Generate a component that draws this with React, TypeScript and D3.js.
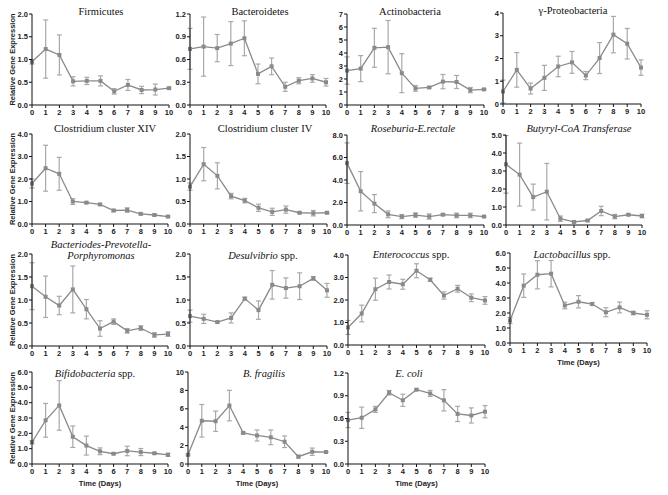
import * as d3 from 'd3';
import React from 'react';

// sampling days
const days = [0, 1, 2, 3, 4, 5, 6, 7, 8, 9, 10];

// mean and error (SEM) per group
const firmicutesMean = [0.95, 1.23, 1.1, 0.52, 0.53, 0.53, 0.3, 0.44, 0.33, 0.34, 0.37];
const firmicutesErr = [0.05, 0.64, 0.44, 0.1, 0.08, 0.11, 0.06, 0.12, 0.08, 0.12, 0.02];

const bacteroidetesMean = [0.74, 0.77, 0.75, 0.81, 0.88, 0.41, 0.51, 0.24, 0.32, 0.35, 0.3];
const bacteroidetesErr = [0.27, 0.39, 0.18, 0.29, 0.23, 0.13, 0.11, 0.06, 0.04, 0.05, 0.05];

const actinoMean = [2.65, 2.8, 4.4, 4.45, 2.45, 1.28, 1.35, 1.8, 1.77, 1.15, 1.2];
const actinoErr = [1.05, 1.0, 1.5, 2.05, 1.5, 0.22, 0.05, 0.55, 0.5, 0.2, 0.05];

const gammaMean = [0.55, 1.5, 0.68, 1.15, 1.65, 1.83, 1.25, 2.02, 3.05, 2.65, 1.6];
const gammaErr = [0.5, 0.76, 0.24, 0.55, 0.45, 0.48, 0.18, 0.68, 0.8, 0.67, 0.34];

const clostXIVMean = [1.8, 2.48, 2.23, 1.0, 0.95, 0.87, 0.6, 0.62, 0.45, 0.4, 0.33];
const clostXIVErr = [0.2, 1.02, 0.73, 0.13, 0.04, 0.04, 0.05, 0.1, 0.04, 0.04, 0.03];

const clostIVMean = [0.83, 1.33, 1.07, 0.62, 0.52, 0.36, 0.27, 0.32, 0.25, 0.24, 0.25];
const clostIVErr = [0.08, 0.37, 0.29, 0.06, 0.05, 0.08, 0.08, 0.08, 0.02, 0.06, 0.02];

const roseburiaMean = [5.5, 3.0, 1.9, 0.95, 0.75, 0.88, 0.75, 0.92, 0.85, 0.85, 0.75];
const roseburiaErr = [1.8, 1.75, 0.8, 0.3, 0.18, 0.2, 0.23, 0.08, 0.2, 0.2, 0.05];

const butyrylMean = [3.37, 2.8, 1.55, 1.85, 0.35, 0.17, 0.25, 0.78, 0.47, 0.57, 0.5];
const butyrylErr = [1.6, 1.75, 0.72, 1.57, 0.15, 0.05, 0.04, 0.26, 0.12, 0.05, 0.1];

const bppMean = [1.3, 1.07, 0.88, 1.23, 0.8, 0.38, 0.53, 0.33, 0.39, 0.24, 0.26];
const bppErr = [0.51, 0.45, 0.2, 0.51, 0.21, 0.17, 0.06, 0.05, 0.05, 0.05, 0.05];

const desulMean = [0.65, 0.59, 0.52, 0.61, 1.03, 0.78, 1.33, 1.26, 1.3, 1.47, 1.21];
const desulErr = [0.13, 0.1, 0.02, 0.11, 0.03, 0.2, 0.31, 0.22, 0.29, 0.04, 0.15];

const enteroMean = [0.78, 1.4, 2.48, 2.8, 2.7, 3.3, 2.9, 2.2, 2.5, 2.1, 1.98];
const enteroErr = [0.31, 0.37, 0.49, 0.31, 0.22, 0.31, 0.07, 0.16, 0.15, 0.17, 0.17];

const lactoMean = [1.5, 3.82, 4.55, 4.62, 2.5, 2.75, 2.6, 2.05, 2.37, 2.0, 1.88];
const lactoErr = [0.2, 0.78, 0.94, 0.88, 0.22, 0.41, 0.1, 0.3, 0.36, 0.12, 0.27];

const bifidoMean = [1.42, 2.85, 3.82, 1.78, 1.2, 0.83, 0.67, 0.85, 0.78, 0.7, 0.6];
const bifidoErr = [0.1, 1.1, 1.62, 0.7, 0.62, 0.22, 0.05, 0.31, 0.23, 0.05, 0.1];

const fragilisMean = [1.0, 4.7, 4.65, 6.35, 3.38, 3.1, 2.9, 2.42, 0.8, 1.33, 1.3];
const fragilisErr = [0.1, 1.77, 1.1, 1.66, 0.1, 0.6, 0.8, 0.63, 0.15, 0.4, 0.05];

const ecoliMean = [0.58, 0.61, 0.72, 0.94, 0.84, 0.98, 0.93, 0.84, 0.66, 0.64, 0.69];
const ecoliErr = [0.1, 0.14, 0.04, 0.03, 0.08, 0.01, 0.04, 0.14, 0.1, 0.1, 0.08];

// y tick values
const ticks0to2half = [0, 0.5, 1, 1.5, 2];
const ticks0to12 = [0, 0.3, 0.6, 0.9, 1.2];
const ticks0to7 = [0, 1, 2, 3, 4, 5, 6, 7];
const ticks0to4 = [0, 1, 2, 3, 4];
const ticks0to8 = [0, 2, 4, 6, 8];
const ticks0to5 = [0, 1, 2, 3, 4, 5];
const ticks0to6 = [0, 1, 2, 3, 4, 5, 6];
const ticks0to10 = [0, 2, 4, 6, 8, 10];

type Part = { t: string; i?: boolean };

const panels = [
  { title: [[{ t: 'Firmicutes' }]], mean: firmicutesMean, err: firmicutesErr, ticks: ticks0to2half, fmt: '.1f',
    x0: 32, x1: 169, y0: 14, y1: 105, tx: 101, ty: 15, ylab: true },
  { title: [[{ t: 'Bacteroidetes' }]], mean: bacteroidetesMean, err: bacteroidetesErr, ticks: ticks0to12, fmt: '.1f',
    x0: 190, x1: 326, y0: 14, y1: 105, tx: 260, ty: 15 },
  { title: [[{ t: 'Actinobacteria' }]], mean: actinoMean, err: actinoErr, ticks: ticks0to7, fmt: 'd',
    x0: 347, x1: 484, y0: 14, y1: 105, tx: 410, ty: 15 },
  { title: [[{ t: 'γ-Proteobacteria' }]], mean: gammaMean, err: gammaErr, ticks: ticks0to4, fmt: 'd',
    x0: 503, x1: 641, y0: 13, y1: 104, tx: 573, ty: 14 },

  { title: [[{ t: 'Clostridium cluster XIV' }]], mean: clostXIVMean, err: clostXIVErr, ticks: ticks0to4, fmt: '.1f',
    x0: 32, x1: 168, y0: 134, y1: 224, tx: 105, ty: 132, ylab: true },
  { title: [[{ t: 'Clostridium cluster IV' }]], mean: clostIVMean, err: clostIVErr, ticks: ticks0to2half, fmt: '.1f',
    x0: 190, x1: 327, y0: 134, y1: 224, tx: 265, ty: 132 },
  { title: [[{ t: 'Roseburia-E.rectale', i: true }]], mean: roseburiaMean, err: roseburiaErr, ticks: ticks0to8, fmt: '.1f',
    x0: 347, x1: 484, y0: 135, y1: 225, tx: 413, ty: 132 },
  { title: [[{ t: 'Butyryl-CoA Transferase', i: true }]], mean: butyrylMean, err: butyrylErr, ticks: ticks0to5, fmt: '.1f',
    x0: 506, x1: 642, y0: 135, y1: 225, tx: 579, ty: 132 },

  { title: [[{ t: 'Bacteriodes-Prevotella-', i: true }], [{ t: 'Porphyromonas', i: true }]], mean: bppMean, err: bppErr,
    ticks: ticks0to2half, fmt: '.1f', x0: 32, x1: 168, y0: 254, y1: 346, tx: 101, ty: 248, ylab: true },
  { title: [[{ t: 'Desulvibrio', i: true }, { t: ' spp.' }]], mean: desulMean, err: desulErr, ticks: ticks0to2half, fmt: '.1f',
    x0: 190, x1: 327, y0: 254, y1: 346, tx: 263, ty: 259 },
  { title: [[{ t: 'Enterococcus', i: true }, { t: ' spp.' }]], mean: enteroMean, err: enteroErr, ticks: ticks0to4, fmt: '.1f',
    x0: 348, x1: 485, y0: 255, y1: 345, tx: 411, ty: 258 },
  { title: [[{ t: 'Lactobacillus', i: true }, { t: ' spp.' }]], mean: lactoMean, err: lactoErr, ticks: ticks0to6, fmt: '.1f',
    x0: 510, x1: 647, y0: 253, y1: 343, tx: 572, ty: 258, xlab: true },

  { title: [[{ t: 'Bifidobacteria', i: true }, { t: ' spp.' }]], mean: bifidoMean, err: bifidoErr, ticks: ticks0to6, fmt: '.1f',
    x0: 32, x1: 168, y0: 372, y1: 464, tx: 95, ty: 377, ylab: true, xlab: true },
  { title: [[{ t: 'B. fragilis', i: true }]], mean: fragilisMean, err: fragilisErr, ticks: ticks0to10, fmt: 'd',
    x0: 188, x1: 326, y0: 372, y1: 464, tx: 264, ty: 377, xlab: true },
  { title: [[{ t: 'E. coli', i: true }]], mean: ecoliMean, err: ecoliErr, ticks: ticks0to12, fmt: '.1f',
    x0: 348, x1: 485, y0: 373, y1: 464, tx: 409, ty: 377, xlab: true },
];

const LINE = '#8a8a8a';
const ERR = '#a9a9a9';
const AXIS = '#111';
const sans = '"Liberation Sans", Arial, sans-serif';
const serif = '"Liberation Serif", "Times New Roman", serif';

const Panel = ({ p }: { p: (typeof panels)[number] }) => {
  const x = d3.scaleLinear().domain([0, 10]).range([p.x0, p.x1]);
  const y = d3
    .scaleLinear()
    .domain([0, p.ticks[p.ticks.length - 1]])
    .range([p.y1, p.y0]);
  const fmt = d3.format(p.fmt);
  const line = d3
    .line<number>()
    .x((_, i) => x(days[i]))
    .y((d) => y(d));

  return (
    <g>
      {/* error bars */}
      {p.mean.map((m, i) => {
        const cx = x(days[i]);
        const lo = y(Math.max(0, m - p.err[i]));
        const hi = y(m + p.err[i]);
        return (
          <g key={'e' + i} stroke={ERR} strokeWidth={1.2} fill="none">
            <line x1={cx} x2={cx} y1={lo} y2={hi} />
            <line x1={cx - 2.5} x2={cx + 2.5} y1={lo} y2={lo} />
            <line x1={cx - 2.5} x2={cx + 2.5} y1={hi} y2={hi} />
          </g>
        );
      })}
      <path d={line(p.mean) || ''} fill="none" stroke={LINE} strokeWidth={1.3} />
      {p.mean.map((m, i) => (
        <rect key={'m' + i} x={x(days[i]) - 2} y={y(m) - 2} width={4} height={4} fill={LINE} />
      ))}

      {/* axes */}
      <line x1={p.x0} x2={p.x0} y1={p.y0} y2={p.y1} stroke={AXIS} strokeWidth={1} />
      <line x1={p.x0} x2={p.x1} y1={p.y1} y2={p.y1} stroke={AXIS} strokeWidth={1} />
      {p.ticks.map((t) => (
        <g key={'y' + t}>
          <line x1={p.x0 - 3} x2={p.x0} y1={y(t)} y2={y(t)} stroke={AXIS} strokeWidth={1} />
          <text x={p.x0 - 4} y={y(t)} dy="0.35em" textAnchor="end" fontSize={7.5} fontWeight="bold"
            fontFamily={sans} fill="#222">
            {fmt(t)}
          </text>
        </g>
      ))}
      {days.map((d) => (
        <g key={'x' + d}>
          <line x1={x(d)} x2={x(d)} y1={p.y1} y2={p.y1 + 3} stroke={AXIS} strokeWidth={1} />
          <text x={x(d)} y={p.y1 + 10} textAnchor="middle" fontSize={7.5} fontWeight="bold"
            fontFamily={sans} fill="#222">
            {d}
          </text>
        </g>
      ))}

      {/* title */}
      {p.title.map((parts: Part[], li: number) => (
        <text key={'t' + li} x={p.tx} y={p.ty + li * 11} textAnchor="middle" fontSize={10.5}
          fontFamily={serif} fill="#111">
          {parts.map((s, k) => (
            <tspan key={k} fontStyle={s.i ? 'italic' : 'normal'}>{s.t}</tspan>
          ))}
        </text>
      ))}

      {p.ylab && (
        <text transform={`translate(12,${(p.y0 + p.y1) / 2}) rotate(-90)`} textAnchor="middle"
          fontSize={7.5} fontWeight="bold" fontFamily={sans} fill="#222" dy="0.35em">
          Relative Gene Expression
        </text>
      )}
      {p.xlab && (
        <text x={(p.x0 + p.x1) / 2} y={p.y1 + 22} textAnchor="middle" fontSize={7.5}
          fontWeight="bold" fontFamily={sans} fill="#222">
          Time (Days)
        </text>
      )}
    </g>
  );
};

const App = () => {
  return (
    <svg width={668} height={495} style={{ position: 'absolute', left: 0, top: 0, background: '#fff' }}>
      {panels.map((p, i) => (
        <Panel key={i} p={p} />
      ))}
    </svg>
  );
};

export default App;
